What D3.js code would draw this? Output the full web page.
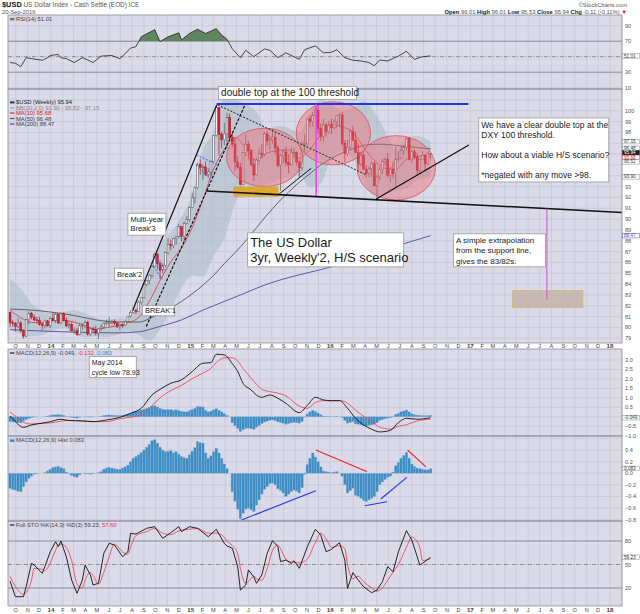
<!DOCTYPE html>
<html>
<head>
<meta charset="utf-8">
<script src="https://cdn.jsdelivr.net/npm/d3@7"></script>
<style>
  body { margin: 0; background: #fff; }
  svg { display: block; font-family: "Liberation Sans", Arial, sans-serif; }
</style>
</head>
<body>
<script>
// weekly bars, first bar = week of 16 Sep 2013
const firstWeek = '2013-09-16';

const opens = [
  81.40,80.44,80.37,80.11,80.42,79.69,79.20,80.73,81.31,80.95,80.70,80.68,80.29,80.18,80.60,80.15,
  80.84,80.64,81.21,80.41,81.29,80.67,80.14,80.27,79.69,79.69,79.37,80.15,80.17,80.46,79.39,79.87,
  79.79,79.47,79.88,80.04,80.39,80.42,80.45,80.57,80.40,80.11,80.22,80.21,80.56,81.04,81.38,81.55,
  81.48,82.34,82.74,83.98,84.33,84.77,85.64,86.77,85.89,85.29,85.73,86.90,87.64,87.55,88.23,88.36,
  89.32,88.40,89.60,89.97,91.08,91.96,92.90,95.05,94.80,94.80,94.11,94.34,95.32,97.70,100.28,97.83,
  97.32,97.86,99.35,97.49,96.93,95.27,94.80,93.21,96.13,96.91,96.31,95.06,94.07,95.44,96.03,95.97,
  97.86,97.21,97.34,97.56,96.57,94.96,95.87,96.19,95.20,95.01,96.11,96.13,95.28,94.72,96.88,96.97,
  99.24,98.99,99.57,100.06,98.35,97.63,98.68,98.08,98.69,98.42,98.96,99.54,99.61,97.00,96.04,96.61,
  98.08,97.29,96.17,95.07,95.90,94.60,94.22,94.64,95.10,93.07,93.88,94.60,95.30,95.52,94.04,94.60,
  94.20,95.52,95.61,96.32,96.61,97.46,95.52,96.21,95.72,94.50,95.53,95.85,95.13,96.01
];
const highs = [
  81.45,80.70,80.52,80.86,80.58,79.80,80.79,81.48,81.44,81.19,80.98,80.98,80.48,80.74,80.69,80.98,
  81.43,81.32,81.30,81.42,81.40,80.92,80.53,80.48,80.00,79.94,80.38,80.40,80.65,80.62,80.01,80.05,
  80.16,79.93,80.28,80.44,80.72,80.95,80.73,80.75,80.51,80.35,80.35,80.65,81.06,81.58,81.73,81.77,
  82.48,82.80,84.10,84.41,84.93,85.73,86.85,86.84,86.16,85.92,86.99,88.21,88.10,88.30,88.45,89.55,
  89.34,89.74,90.27,91.18,92.44,92.96,95.18,95.53,95.05,95.33,94.70,95.40,97.75,100.39,100.33,98.05,
  98.87,99.81,99.74,97.97,97.44,95.82,95.20,96.20,97.80,97.22,96.45,95.60,95.65,96.55,96.90,98.05,
  98.15,97.72,98.33,98.02,96.78,96.04,96.45,96.66,96.00,96.63,96.53,96.25,95.42,97.22,97.83,99.32,
  99.60,99.87,100.20,100.51,98.80,99.24,98.88,99.06,99.27,99.21,99.55,99.73,99.88,97.28,97.32,98.30,
  98.60,98.07,96.97,96.22,96.14,94.98,94.84,95.29,95.32,94.06,94.78,95.56,95.70,96.07,94.87,95.29,
  96.70,96.26,96.73,96.78,97.57,97.59,96.36,96.45,96.14,95.57,96.25,95.99,96.16,96.01
];
const lows = [
  80.06,80.06,79.63,79.97,79.53,79.00,79.10,80.28,80.74,80.57,80.41,80.17,79.75,79.90,80.07,79.94,
  80.58,80.40,80.35,80.30,80.58,80.06,79.90,79.68,79.43,79.21,79.28,79.78,79.92,79.25,79.22,79.60,
  79.27,78.93,79.70,79.87,80.21,80.06,80.27,80.22,79.95,79.74,79.96,80.13,80.49,80.93,81.26,81.24,
  81.39,82.09,82.68,83.80,83.96,84.58,85.55,85.36,84.47,84.99,85.56,86.71,87.15,87.31,87.63,88.27,
  87.95,87.98,89.48,89.77,91.00,91.45,92.75,94.10,93.62,94.01,93.90,93.92,95.27,97.60,95.86,96.54,
  96.82,96.51,97.40,96.62,94.47,94.60,93.13,93.17,95.80,95.50,94.85,93.50,94.00,95.10,95.62,95.80,
  96.78,96.42,96.95,95.95,94.79,92.62,95.14,94.88,94.22,94.95,95.64,94.95,93.80,94.45,96.16,96.80,
  98.48,98.54,99.37,97.86,97.22,97.15,97.61,97.85,97.84,98.26,98.40,98.51,96.74,95.25,95.81,96.43,
  97.18,96.06,94.58,94.90,94.59,93.84,93.89,93.87,93.03,91.92,93.55,94.18,94.96,93.86,93.43,93.76,
  93.01,95.28,95.53,95.93,96.41,95.38,95.16,95.50,94.08,94.21,95.46,94.47,95.01,95.53
];
const closes = [
  80.44,80.37,80.11,80.42,79.69,79.20,80.73,81.31,80.95,80.70,80.68,80.29,80.18,80.60,80.15,80.84,
  80.64,81.21,80.41,81.29,80.67,80.14,80.27,79.69,79.69,79.37,80.15,80.17,80.46,79.39,79.87,79.79,
  79.47,79.88,80.04,80.39,80.42,80.45,80.57,80.40,80.11,80.22,80.21,80.56,81.04,81.38,81.55,81.48,
  82.34,82.74,83.98,84.33,84.77,85.64,86.77,85.89,85.29,85.73,86.90,87.64,87.55,88.23,88.36,89.32,
  88.40,89.60,89.97,91.08,91.96,92.90,95.05,94.80,94.80,94.11,94.34,95.32,97.70,100.28,97.83,97.32,
  97.86,99.35,97.49,96.93,95.27,94.80,93.21,96.13,96.91,96.31,95.06,94.07,95.44,96.03,95.97,97.86,
  97.21,97.34,97.56,96.57,94.96,95.87,96.19,95.20,95.01,96.11,96.13,95.28,94.72,96.88,96.97,99.24,
  98.99,99.57,100.06,98.35,97.63,98.68,98.08,98.69,98.42,98.96,99.54,99.61,97.00,96.04,96.61,98.08,
  97.29,96.17,95.07,95.90,94.60,94.22,94.64,95.10,93.07,93.88,94.60,95.30,95.52,94.04,94.60,94.20,
  95.52,95.61,96.32,96.61,97.46,95.52,96.21,95.72,94.50,95.53,95.85,95.13,96.05,95.94
];

// overlays: [week index, value]
const bbUpper = [[0,84.5],[4,83.6],[8,82.2],[12,81.6],[16,81.3],[20,81.4],[24,81.6],[28,81.3],[32,80.9],[36,80.7],
  [40,80.8],[44,80.9],[48,82.2],[52,84.8],[56,87.6],[60,88.8],[64,90.2],[68,92.3],[72,96.4],[76,98.0],[80,101.2],
  [84,101.0],[88,100.6],[92,99.9],[96,98.3],[100,98.6],[104,98.4],[108,98.0],[112,99.8],[116,101.0],[120,100.6],
  [124,100.0],[128,100.3],[132,100.9],[136,99.9],[140,98.2],[144,96.4],[148,97.4],[152,97.7],[156,97.3],[157,97.15]];
const bbLower = [[0,79.8],[4,79.4],[8,79.2],[12,79.3],[16,79.7],[20,79.9],[24,79.4],[28,79.1],[32,79.2],[36,79.1],
  [40,79.3],[44,79.7],[48,79.3],[52,78.8],[56,79.8],[60,81.6],[64,83.6],[68,84.8],[72,84.7],[76,86.6],[80,88.2],
  [84,91.4],[88,93.1],[92,92.8],[96,93.2],[100,93.6],[104,93.9],[108,94.0],[112,92.9],[116,93.3],[120,95.6],
  [124,96.3],[128,95.6],[132,93.6],[136,92.2],[140,92.3],[144,92.6],[148,92.8],[152,93.6],[156,93.8],[157,93.90]];
const ma10 = [[0,81.6],[4,80.9],[8,80.46],[12,80.42],[16,80.63],[20,80.63],[24,80.49],[28,80.19],[32,79.8],[36,79.99],
  [40,80.15],[44,80.44],[48,80.93],[52,82.42],[56,84.32],[60,86.05],[64,87.33],[68,89.21],[72,91.79],[76,94.61],
  [80,96.44],[84,97.54],[88,96.53],[92,95.41],[96,96.10],[100,96.30],[104,96.38],[108,95.60],[112,96.45],[116,97.77],
  [120,98.77],[124,98.50],[128,98.02],[132,96.64],[136,95.41],[140,94.68],[144,94.58],[148,95.52],[152,95.77],
  [156,95.86],[157,95.68]];
const ma50 = [[0,81.7],[8,81.6],[16,81.4],[24,81.1],[32,80.7],[40,80.5],[48,80.5],[52,80.8],[56,81.3],[60,81.8],
  [64,82.4],[68,83.1],[72,83.9],[76,84.8],[80,85.9],[84,86.9],[88,88.0],[92,89.2],[96,90.4],[100,91.5],[104,92.5],
  [108,93.4],[112,94.2],[116,95.0],[120,95.6],[124,96.1],[128,96.5],[132,96.8],[136,96.9],[140,96.9],[144,96.8],
  [148,96.7],[152,96.6],[157,96.48]];
const ma200 = [[0,79.8],[20,79.6],[40,79.5],[48,79.6],[56,80.1],[64,80.7],[72,81.6],[80,82.4],[88,83.2],[96,84.0],
  [104,84.6],[112,85.1],[120,85.6],[128,86.3],[136,86.9],[144,87.5],[152,88.1],[157,88.47]];

const rsi = [[0,42.5],[2,41.6],[4,37],[6,48.7],[8,47.5],[12,45.4],[14,48.7],[15,51.6],[18,52.9],[19,48.7],[21,47.5],
  [24,42.5],[27,48.7],[29,45.8],[31,42.5],[34,50.8],[38,51.6],[41,47.5],[42,50.8],[45,61],[47,63],[49,75.8],[54,85],
  [56,69.5],[59,75.7],[63,80.8],[64,71.6],[67,80],[70,85.4],[73,80],[77,86.2],[79,77.9],[81,72.5],[83,60],[86,48.7],
  [88,58.3],[91,50],[95,60],[97,58.3],[100,48.7],[103,55],[108,46.6],[110,59],[114,64],[117,55],[120,55.8],[122,59],
  [125,48.7],[128,45.4],[131,44.5],[134,42.5],[136,38.3],[138,45.8],[141,44.5],[145,50.8],[148,57],[151,46.6],
  [154,50],[157,51.01]];

const macdLine = [[0,0.04],[2,-0.26],[5,-0.56],[8,-0.43],[12,-0.34],[15,-0.26],[19,-0.13],[22,-0.2],[27,-0.22],
  [31,-0.26],[36,-0.17],[41,-0.03],[45,0.18],[49,0.45],[53,1.15],[56,1.45],[60,1.77],[64,1.95],[68,2.39],[72,2.83],
  [75,2.86],[77,3.3],[80,3.27],[83,2.8],[85,2.39],[87,1.77],[90,1.42],[92,1.15],[94,1.03],[97,1.15],[100,0.98],
  [103,0.71],[108,0.22],[111,0.6],[114,1.03],[117,0.89],[120,0.85],[123,0.85],[126,0.45],[129,-0.08],[132,-0.43],
  [135,-0.66],[138,-0.8],[142,-0.72],[145,-0.31],[148,-0.08],[152,-0.13],[157,-0.049]];
const macdSignal = [[0,0.25],[2,0.03],[5,-0.3],[8,-0.38],[12,-0.34],[15,-0.33],[19,-0.23],[22,-0.19],[27,-0.22],
  [31,-0.25],[36,-0.26],[41,-0.1],[45,-0.02],[49,0.09],[53,0.59],[56,1.0],[60,1.38],[64,1.66],[68,2.01],[72,2.31],
  [75,2.56],[77,2.87],[80,3.11],[83,3.12],[85,2.95],[87,2.55],[90,2.05],[92,1.72],[94,1.45],[97,1.33],[100,1.25],
  [103,1.1],[108,0.56],[111,0.45],[114,0.75],[117,0.85],[120,0.85],[123,0.86],[126,0.72],[129,0.35],[132,0.03],
  [135,-0.24],[138,-0.55],[142,-0.65],[145,-0.5],[148,-0.42],[152,-0.22],[157,-0.132]];
// weekly histogram
const macdHist = [
  -0.26,-0.28,-0.29,-0.31,-0.32,-0.23,-0.15,-0.09,-0.05,-0.02,-0.01,0.00,0.00,0.01,0.04,0.07,
  0.10,0.11,0.12,0.10,0.08,0.02,-0.01,-0.04,-0.06,-0.07,-0.03,0.00,-0.01,-0.01,-0.02,-0.01,
  0.00,0.01,0.03,0.07,0.09,0.10,0.09,0.08,0.07,0.07,0.09,0.11,0.14,0.20,0.26,0.29,
  0.32,0.36,0.40,0.45,0.50,0.56,0.58,0.52,0.45,0.40,0.37,0.38,0.39,0.35,0.37,0.33,
  0.29,0.27,0.26,0.32,0.38,0.44,0.55,0.53,0.52,0.35,0.26,0.30,0.37,0.43,0.35,0.26,
  0.16,0.08,0.00,-0.32,-0.48,-0.62,-0.78,-0.69,-0.62,-0.60,-0.63,-0.66,-0.55,-0.46,-0.36,-0.28,
  -0.23,-0.18,-0.17,-0.20,-0.27,-0.30,-0.34,-0.40,-0.36,-0.32,-0.29,-0.31,-0.34,-0.25,-0.02,0.15,
  0.26,0.35,0.28,0.20,0.11,0.04,0.03,0.02,0.01,0.02,0.03,0.00,-0.05,-0.20,-0.34,-0.30,
  -0.26,-0.38,-0.40,-0.43,-0.47,-0.49,-0.46,-0.43,-0.40,-0.32,-0.20,-0.15,-0.11,-0.07,-0.05,0.02,
  0.13,0.19,0.26,0.31,0.36,0.26,0.16,0.12,0.09,0.08,0.07,0.06,0.06,0.08
];

const stoK = [[0,28.9],[2,8.9],[5,8.9],[6,21.6],[8,51.5],[9,49.3],[12,38.7],[13,47.2],[15,66.3],[17,79],[18,72.7],
  [19,80],[21,60],[23,30.2],[25,13.2],[27,30.2],[28,49.3],[30,36.6],[31,23.8],[33,26],[35,64.3],[37,77],[39,74.9],
  [42,60],[44,66.3],[45,89.8],[47,88.9],[51,96.2],[54,98.3],[57,83.4],[60,90.6],[63,98.3],[64,91.9],[67,98.3],
  [70,96.2],[74,85.5],[77,95],[80,77],[81,73.6],[83,70.7],[85,47.2],[86,17.4],[88,23.8],[89,43],[91,34.4],[92,26],
  [94,36.6],[96,64.3],[98,80.4],[100,72.7],[101,53.6],[103,55.7],[105,51.5],[106,54.8],[108,45.1],[111,72.7],
  [114,95],[116,87.7],[118,66.3],[120,69.4],[123,77.8],[125,55.7],[126,19.6],[128,39.6],[130,30.2],[132,21.6],
  [135,14],[137,17.4],[139,28],[141,47.2],[143,40.8],[145,66.3],[148,93.2],[150,81.3],[153,49.3],[154,51.5],[157,59.23]];
const stoD = [[0,35],[2,22],[5,12],[6,14],[8,30],[9,45],[12,44],[13,42],[15,52],[17,68],[18,75],[19,76],[21,72],
  [23,55],[25,25],[27,20],[28,30],[30,40],[31,36],[33,25],[35,40],[37,60],[39,76],[42,66],[44,63],[45,72],[47,87],
  [51,92],[54,96],[57,90],[60,88],[63,93],[64,94],[67,95],[70,96],[74,90],[77,90],[80,85],[81,80],[83,74],[85,64],
  [86,45],[88,26],[89,28],[91,35],[92,32],[94,30],[96,45],[98,68],[100,75],[101,70],[103,57],[105,53],[106,53],
  [108,52],[111,57],[114,78],[116,90],[118,83],[120,72],[123,74],[125,70],[126,50],[128,32],[130,35],[132,28],
  [135,20],[137,16],[139,20],[141,30],[143,40],[145,50],[148,72],[150,85],[153,72],[154,55],[157,57.6]];

// hand-drawn marks on the chart, in date / value units
const priceLines = [
  { a: ['2015-03-10', 100.62], b: ['2016-12-27', 100.62], color: '#2233ee', w: 2 },
  { a: ['2015-11-25', 100.62], b: ['2015-11-25', 92.07], color: '#ee44ee', w: 1.6 },
  { a: ['2015-02-11', 92.6], b: ['2018-02-01', 90.61], color: '#111', w: 1.5 },
  { a: ['2017-07-20', 90.97], b: ['2017-07-20', 82.55], color: '#cc55cc', w: 1 },
  { a: ['2015-03-13', 100.53], b: ['2016-04-05', 94.07], color: '#222', w: 1, dash: '2,1.5' },
  { a: ['2014-09-07', 80.09], b: ['2015-05-22', 100.46], color: '#111', w: 1.2, dash: '3,1.5' },
  { a: ['2014-08-03', 81.63], b: ['2015-03-10', 100.53], color: '#111', w: 1.2 },
  { a: ['2015-08-20', 92.3], b: ['2015-11-12', 94.69], color: '#111', w: 1 },
  { a: ['2016-04-30', 91.86], b: ['2016-12-28', 96.84], color: '#111', w: 1.2 },
  { a: ['2014-09-25', 86.61], b: ['2014-10-30', 85.16], color: '#3355ff', w: 1, dash: '2,1.5' },
  { a: ['2014-09-20', 85.86], b: ['2014-10-19', 84.46], color: '#3355ff', w: 1, dash: '2,1.5' },
  { a: ['2015-01-16', 95.92], b: ['2015-03-13', 95.0], color: '#3355ff', w: 1, dash: '2,1.5' },
  { a: ['2015-01-16', 95.0], b: ['2015-02-28', 93.46], color: '#3355ff', w: 1, dash: '2,1.5' }
];
const histLines = [
  { a: ['2015-11-24', 0.40], b: ['2016-04-05', 0.03], color: '#ee2222' },
  { a: ['2015-05-14', -0.805], b: ['2015-11-24', -0.30], color: '#2233ee' },
  { a: ['2016-03-31', -0.56], b: ['2016-05-28', -0.49], color: '#2233ee' },
  { a: ['2016-05-12', -0.444], b: ['2016-07-19', -0.07], color: '#2233ee' },
  { a: ['2016-07-21', 0.40], b: ['2016-09-07', 0.11], color: '#ee2222' }
];
const ellipses = [
  { from: '2015-04-05', to: '2015-10-21', top: 98.38, bottom: 93.0 },
  { from: '2015-10-04', to: '2016-04-15', top: 100.83, bottom: 95.0 },
  { from: '2016-03-11', to: '2016-10-02', top: 97.70, bottom: 91.77 }
];
const boxes = [
  { from: '2015-04-23', to: '2015-08-19', top: 93.0, bottom: 92.07, fill: '#dca41c', stroke: 'none', op: 0.88 },
  { from: '2017-04-21', to: '2017-10-22', top: 83.41, bottom: 81.86, fill: '#c4b4aa', stroke: '#d2b46e', op: 0.85 }
];
const notes = [
  { panel: 'price', date: '2015-03-15', value: 102.23, size: 10, w: 138, h: 13, lines: ['double top at the 100 threshold'] },
  { panel: 'price', date: '2014-07-21', value: 90.54, size: 7.5, w: 38, h: 22, lines: ['Multi-year', "Break'3"] },
  { panel: 'price', date: '2014-06-16', value: 85.47, size: 7.5, w: 29, h: 12, lines: ["Break'2"] },
  { panel: 'price', date: '2014-08-28', value: 82.0, size: 7.5, w: 32, h: 10, lines: ["BREAK'1"] },
  { panel: 'price', date: '2015-05-30', value: 88.73, size: 13, w: 156, h: 34, lh: 15, lines: ['The US Dollar', "3yr, Weekly'2, H/S scenario"] },
  { panel: 'price', date: '2017-01-23', value: 99.33, size: 8.5, w: 130, h: 64, lh: 10.1,
    lines: ['We have a clear double top at the', 'DXY 100 threshold.', '', 'How about a viable H/S scenario?', '', '*negated with any move >98.'] },
  { panel: 'price', date: '2016-11-18', value: 88.64, size: 8, w: 92, h: 33, lh: 10.3,
    lines: ['A simple extrapolation', 'from the support line,', 'gives the 83/82s.'] },
  { panel: 'macd', date: '2014-04-11', value: 3.18, size: 7, w: 47, h: 21, lh: 10, lines: ['May 2014', 'cycle low 78.93'] }
];

const monthLetters = ['J','F','M','A','M','J','J','A','S','O','N','D'];

// value tags on the right axis, per panel
const tagList = {
  rsi: [{ v: 51.01, t: '51.01' }],
  price: [
    { v: 97.15, t: '97.15' }, { v: 96.48, t: '96.48' },
    { v: 95.94, t: '95.94', fill: '#222', color: '#fff', stroke: '#222' },
    { v: 95.68, t: '95.68', color: '#d02020', stroke: '#d02020' },
    { v: 95.52, t: '95.52' }, { v: 93.90, t: '93.90' },
    { v: 88.47, t: '88.47', stroke: '#4c4ca8', color: '#4c4ca8' }
  ],
  macd: [{ v: -0.049, t: '-0.049' }],
  hist: [{ v: 0.083, t: '0.083' }],
  sto: [{ v: 59.23, t: '59.23' }]
};

// ---------- layout ----------
const L = 8, R = 622;
const BG = '#dadae9', GRID = '#c4c4d7', FRAME = '#8c8c9c';
const parse = d3.timeParse('%Y-%m-%d');
const start = parse(firstWeek);
const wk = i => d3.timeDay.offset(start, i * 7);

const x = d3.scaleTime().domain([new Date(2014, 0, 1), new Date(2018, 0, 1)]).range([51, 610]);

const panels = {
  rsi:   { top: 15,  bottom: 89,  y: d3.scaleLinear().domain([10, 90]).range([87.7, 25.7]),  ticks: [10, 30, 50, 70, 90], grid: [10, 90] },
  price: { top: 89,  bottom: 343, y: d3.scaleLinear().domain([79, 100]).range([338.3, 110.7]), ticks: d3.range(79, 101), grid: d3.range(79, 102) },
  macd:  { top: 349, bottom: 436, y: d3.scaleLinear().domain([-1, 3]).range([435.7, 360]),     ticks: [-1, -0.5, 0.5, 1, 1.5, 2, 2.5, 3], grid: [-0.5, 0, 0.5, 1, 1.5, 2, 2.5, 3] },
  hist:  { top: 436, bottom: 521, y: d3.scaleLinear().domain([-0.8, 0.4]).range([519.7, 450]), ticks: [-0.8, -0.6, -0.4, -0.2, 0, 0.2, 0.4], grid: [-0.8, -0.6, -0.4, -0.2, 0, 0.2, 0.4, 0.6] },
  sto:   { top: 521, bottom: 606, y: d3.scaleLinear().domain([20, 80]).range([588, 541]),      ticks: [20, 50, 80], grid: [] }
};

// spread the tags so they don't sit on top of each other
Object.entries(tagList).forEach(([key, list]) => {
  const p = panels[key];
  list.forEach(d => { d.pos = p.y(d.v); });
  list.sort((a, b) => a.pos - b.pos);
  for (let k = 0; k < 60; k++) {
    for (let i = 1; i < list.length; i++) {
      const gap = list[i].pos - list[i - 1].pos;
      if (gap < 4.5) { const m = (4.5 - gap) / 2; list[i].pos += m; list[i - 1].pos -= m; }
    }
  }
});

const svg = d3.select('body').append('svg').attr('width', 640).attr('height', 614);
const defs = svg.append('defs');
const months = d3.timeMonth.range(new Date(2013, 8, 1), new Date(2018, 2, 1));

Object.entries(panels).forEach(([key, p]) => {
  svg.append('rect').attr('x', L).attr('y', p.top).attr('width', R - L).attr('height', p.bottom - p.top).attr('fill', BG);
  defs.append('clipPath').attr('id', 'clip-' + key).append('rect')
    .attr('x', L).attr('y', p.top).attr('width', R - L).attr('height', p.bottom - p.top);
  p.g = svg.append('g').attr('clip-path', `url(#clip-${key})`);
  p.g.selectAll('line.v').data(months).join('line')
    .attr('x1', d => x(d)).attr('x2', d => x(d)).attr('y1', p.top).attr('y2', p.bottom)
    .attr('stroke', GRID).attr('stroke-width', 0.7);
  p.g.selectAll('line.h').data(p.grid).join('line')
    .attr('x1', L).attr('x2', R).attr('y1', d => p.y(d)).attr('y2', d => p.y(d))
    .attr('stroke', GRID).attr('stroke-width', 0.7);
  // tick labels hidden behind a value tag are left out, as on the original
  const shown = p.ticks.filter(t => tagList[key].every(d => Math.abs(d.pos - p.y(t)) > 3.2));
  svg.append('g').selectAll('text').data(shown).join('text')
    .attr('x', 625).attr('y', d => p.y(d) + 2).attr('font-size', 5.6).attr('fill', '#555')
    .text(d => key === 'macd' || key === 'hist' ? d3.format('.1f')(d) : d);
});

// reference levels for oscillators
[['rsi', 70], ['rsi', 30], ['sto', 80], ['sto', 20]].forEach(([k, v]) => {
  const p = panels[k];
  p.g.append('line').attr('x1', L).attr('x2', R).attr('y1', p.y(v)).attr('y2', p.y(v))
    .attr('stroke', '#8a8a98').attr('stroke-width', 1);
});
[['rsi', 50], ['sto', 50]].forEach(([k, v]) => {
  const p = panels[k];
  p.g.append('line').attr('x1', L).attr('x2', R).attr('y1', p.y(v)).attr('y2', p.y(v))
    .attr('stroke', '#777').attr('stroke-width', 0.8).attr('stroke-dasharray', '4,1.5,1,1.5');
});

// ---------- RSI ----------
{
  const p = panels.rsi;
  defs.append('clipPath').attr('id', 'clip-rsi70').append('rect')
    .attr('x', L).attr('y', p.top).attr('width', R - L).attr('height', p.y(70) - p.top);
  p.g.append('path').datum(rsi).attr('clip-path', 'url(#clip-rsi70)')
    .attr('d', d3.area().x(d => x(wk(d[0]))).y0(p.y(70)).y1(d => p.y(d[1])))
    .attr('fill', '#5f8560');
  p.g.append('path').datum(rsi)
    .attr('d', d3.line().x(d => x(wk(d[0]))).y(d => p.y(d[1])))
    .attr('fill', 'none').attr('stroke', '#222').attr('stroke-width', 0.8);
}

// ---------- price ----------
{
  const p = panels.price, y = p.y, g = p.g;
  const smooth = d3.curveMonotoneX;
  const band = bbUpper.map((d, i) => [d[0], d[1], bbLower[i][1]]);
  g.append('path').datum(band)
    .attr('d', d3.area().curve(smooth).x(d => x(wk(d[0]))).y0(d => y(d[2])).y1(d => y(d[1])))
    .attr('fill', '#a9bcc6').attr('opacity', 0.55);
  const line = d3.line().curve(smooth).x(d => x(wk(d[0]))).y(d => y(d[1]));
  g.append('path').datum(ma200).attr('d', line).attr('fill', 'none').attr('stroke', '#4c4ca8').attr('stroke-width', 0.9);
  g.append('path').datum(ma50).attr('d', line).attr('fill', 'none').attr('stroke', '#55555c').attr('stroke-width', 0.9);
  g.append('path').datum(ma10).attr('d', line).attr('fill', 'none').attr('stroke', '#e0303a').attr('stroke-width', 0.8);

  const bars = closes.map((c, i) => ({ date: wk(i), o: opens[i], h: highs[i], l: lows[i], c }));
  const cg = g.append('g');
  cg.selectAll('line').data(bars).join('line')
    .attr('x1', d => x(d.date)).attr('x2', d => x(d.date))
    .attr('y1', d => y(d.h)).attr('y2', d => y(d.l))
    .attr('stroke', d => d.c < d.o ? '#b01020' : '#555').attr('stroke-width', 0.7);
  cg.selectAll('rect').data(bars).join('rect')
    .attr('x', d => x(d.date) - 0.95).attr('width', 1.9)
    .attr('y', d => y(Math.max(d.o, d.c)))
    .attr('height', d => Math.max(0.7, Math.abs(y(d.o) - y(d.c))))
    .attr('fill', d => d.c < d.o ? '#e0202c' : '#eeeef4')
    .attr('stroke', d => d.c < d.o ? '#a81020' : '#555').attr('stroke-width', 0.5);

  g.selectAll('ellipse').data(ellipses).join('ellipse')
    .attr('cx', d => (x(parse(d.from)) + x(parse(d.to))) / 2)
    .attr('cy', d => (y(d.top) + y(d.bottom)) / 2)
    .attr('rx', d => (x(parse(d.to)) - x(parse(d.from))) / 2)
    .attr('ry', d => (y(d.bottom) - y(d.top)) / 2)
    .attr('fill', '#f06a70').attr('fill-opacity', 0.42)
    .attr('stroke', '#d85058').attr('stroke-width', 0.8);
  g.selectAll('rect.box').data(boxes).join('rect')
    .attr('x', d => x(parse(d.from))).attr('width', d => x(parse(d.to)) - x(parse(d.from)))
    .attr('y', d => y(d.top)).attr('height', d => y(d.bottom) - y(d.top))
    .attr('fill', d => d.fill).attr('opacity', d => d.op).attr('stroke', d => d.stroke);
  g.selectAll('line.drawn').data(priceLines).join('line')
    .attr('x1', d => x(parse(d.a[0]))).attr('y1', d => y(d.a[1]))
    .attr('x2', d => x(parse(d.b[0]))).attr('y2', d => y(d.b[1]))
    .attr('stroke', d => d.color).attr('stroke-width', d => d.w)
    .attr('stroke-dasharray', d => d.dash || null);
}

// ---------- MACD ----------
const histBars = macdHist.map((v, i) => ({ date: wk(i), v }));
{
  const p = panels.macd, y = p.y;
  p.g.selectAll('rect').data(histBars).join('rect')
    .attr('x', d => x(d.date) - 1.34).attr('width', 2.68)
    .attr('y', d => Math.min(y(d.v), y(0))).attr('height', d => Math.abs(y(d.v) - y(0)))
    .attr('fill', '#3b8dc5').attr('stroke', '#9cbad4').attr('stroke-width', 0.3);
  const line = d3.line().curve(d3.curveMonotoneX).x(d => x(wk(d[0]))).y(d => y(d[1]));
  p.g.append('path').datum(macdSignal).attr('d', line).attr('fill', 'none').attr('stroke', '#ee4a55').attr('stroke-width', 0.9);
  p.g.append('path').datum(macdLine).attr('d', line).attr('fill', 'none').attr('stroke', '#111').attr('stroke-width', 0.9);
}
{
  const p = panels.hist, y = p.y;
  p.g.selectAll('rect').data(histBars).join('rect')
    .attr('x', d => x(d.date) - 1.34).attr('width', 2.68)
    .attr('y', d => Math.min(y(d.v), y(0))).attr('height', d => Math.abs(y(d.v) - y(0)))
    .attr('fill', '#3b8dc5').attr('stroke', '#9cbad4').attr('stroke-width', 0.35);
  p.g.selectAll('line.drawn').data(histLines).join('line')
    .attr('x1', d => x(parse(d.a[0]))).attr('y1', d => y(d.a[1]))
    .attr('x2', d => x(parse(d.b[0]))).attr('y2', d => y(d.b[1]))
    .attr('stroke', d => d.color).attr('stroke-width', 1.1);
}

// ---------- Full Stochastics ----------
{
  const p = panels.sto, y = p.y;
  p.g.append('path').datum(stoD).attr('d', d3.line().curve(d3.curveMonotoneX).x(d => x(wk(d[0]))).y(d => y(d[1])))
    .attr('fill', 'none').attr('stroke', '#ee4a55').attr('stroke-width', 0.9);
  p.g.append('path').datum(stoK).attr('d', d3.line().x(d => x(wk(d[0]))).y(d => y(d[1])))
    .attr('fill', 'none').attr('stroke', '#111').attr('stroke-width', 0.9);
}

// panel frames on top
Object.values(panels).forEach(p => {
  svg.append('rect').attr('x', L).attr('y', p.top).attr('width', R - L).attr('height', p.bottom - p.top)
    .attr('fill', 'none').attr('stroke', FRAME).attr('stroke-width', 0.8);
});

// month labels
[347.8, 611.5].forEach(yy => {
  svg.append('g').selectAll('text').data(months.filter(d => x(d) > L + 3 && x(d) < R - 3)).join('text')
    .attr('x', d => x(d)).attr('y', yy).attr('text-anchor', 'middle')
    .attr('font-size', d => d.getMonth() === 0 ? 6.2 : 5.6)
    .attr('font-weight', d => d.getMonth() === 0 ? 'bold' : null)
    .attr('fill', '#444')
    .text(d => d.getMonth() === 0 ? d3.timeFormat('%y')(d) : monthLetters[d.getMonth()]);
});

// notes (white boxes)
notes.forEach(n => {
  const p = panels[n.panel];
  const bx = x(parse(n.date)), by = p.y(n.value);
  const lh = n.lh || n.size * 1.2;
  svg.append('rect').attr('x', bx).attr('y', by).attr('width', n.w).attr('height', n.h)
    .attr('fill', '#fff').attr('stroke', '#999').attr('stroke-width', 0.8);
  const t = svg.append('text').attr('font-size', n.size).attr('fill', '#1a1a1a');
  n.lines.forEach((s, i) => {
    t.append('tspan').attr('x', bx + 2.5).attr('y', by + (n.h - lh * n.lines.length) / 2 + lh * (i + 0.78)).text(s);
  });
});

// value tags
Object.values(tagList).forEach(list => {
  list.forEach(d => {
    svg.append('rect').attr('x', 622.5).attr('y', d.pos - 2.3).attr('width', 17).attr('height', 4.6)
      .attr('fill', d.fill || '#fff').attr('stroke', d.stroke || '#888').attr('stroke-width', 0.5);
    svg.append('text').attr('x', 624).attr('y', d.pos + 1.6).attr('font-size', 4.7)
      .attr('fill', d.color || '#333').text(d.t);
  });
});

// header
const head = svg.append('text').attr('x', 2).attr('y', 7).attr('font-size', 6.4).attr('fill', '#555');
head.append('tspan').attr('font-weight', 'bold').attr('font-size', 7.4).attr('fill', '#111').text('$USD');
head.append('tspan').text(' US Dollar Index - Cash Settle (EOD) ICE');
svg.append('text').attr('x', 2).attr('y', 13.5).attr('font-size', 5.8).attr('fill', '#555').text('20-Sep-2016');
svg.append('text').attr('x', 627).attr('y', 6.5).attr('text-anchor', 'end').attr('font-size', 5.8).attr('fill', '#555').text('©StockCharts.com');
const ohlc = svg.append('text').attr('x', 627).attr('y', 13.5).attr('text-anchor', 'end').attr('font-size', 5.8).attr('fill', '#555');
[['Open', ' 96.01 '], ['High', ' 96.01 '], ['Low', ' 95.53 '], ['Close', ' 95.94 '], ['Chg', ' -0.11 (-0.11%) ']].forEach(([k, v]) => {
  ohlc.append('tspan').attr('font-weight', 'bold').attr('fill', '#222').text(k);
  ohlc.append('tspan').text(v);
});
ohlc.append('tspan').attr('fill', '#e01010').text('▼');

// legends
function legend(px, py, parts, mark) {
  if (mark) svg.append('rect').attr('x', px).attr('y', py - 2.6).attr('width', 4.5).attr('height', mark.h || 1.2).attr('fill', mark.color);
  const t = svg.append('text').attr('x', px + 6).attr('y', py).attr('font-size', 5.8).attr('fill', '#444');
  parts.forEach(([s, c]) => t.append('tspan').attr('fill', c || '#444').text(s));
}
legend(10, 20.5, [['RSI(14) 51.01']], { color: '#5f8560', h: 2.5 });
legend(10, 104, [['$USD (Weekly) 95.94', '#222']], { color: '#333', h: 2 });
legend(10, 109.5, [['BB(20,2.0) 93.90 - 95.52 - 97.15', '#888']], { color: '#a9bcc6', h: 2 });
legend(10, 115, [['MA(10) 95.68', '#d02020']], { color: '#e0303a' });
legend(10, 120.5, [['MA(50) 96.48']], { color: '#55555c' });
legend(10, 126, [['MA(200) 88.47']], { color: '#4c4ca8' });
legend(10, 355, [['MACD(12,26,9) -0.049, '], ['-0.132', '#e03040'], [', 0.083', '#3b8dc5']], { color: '#222' });
legend(10, 442, [['MACD(12,26,9) Hist 0.083']], { color: '#3b8dc5', h: 2.5 });
legend(10, 527, [['Full STO %K(14,3) %D(3) 59.23, '], ['57.60', '#e03040']], { color: '#222' });
</script>
</body>
</html>
